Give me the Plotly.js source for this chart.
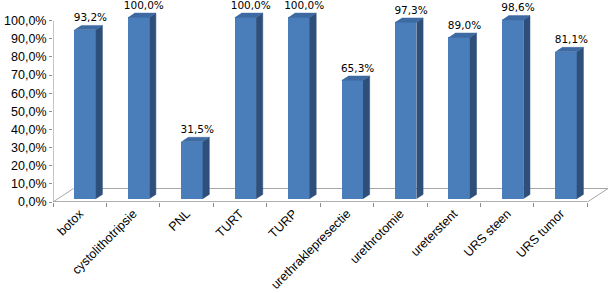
<!DOCTYPE html>
<html>
<head>
<meta charset="utf-8">
<script src="https://cdn.plot.ly/plotly-3.0.1.min.js"></script>
<style>html,body{margin:0;padding:0;background:#fff;}#chart{width:609px;height:293px;}</style>
</head>
<body>
<div id="chart"></div>
<script>
// ---- data ----
const categories = ["botox","cystolithotripsie","PNL","TURT","TURP","urethraklepresectie","urethrotomie","ureterstent","URS steen","URS tumor"];
const values = [93.2, 100.0, 31.5, 100.0, 100.0, 65.3, 97.3, 89.0, 98.6, 81.1];
const labels = ["93,2%","100,0%","31,5%","100,0%","100,0%","65,3%","97,3%","89,0%","98,6%","81,1%"];
const yTicks = [0,10,20,30,40,50,60,70,80,90,100];

// ---- 3D styling (in axis units) ----
const idx = categories.map((_, i) => i);
const frontOff = -0.10, frontW = 0.40;   // front face relative to category centre
const base = 1.8;                        // bars sit slightly back on the floor
const depX = 0.125, depY = 2.4;          // bar depth offsets
const floorDX = 0.385, floorDY = 7.45;   // floor depth
const xMin = -0.5, xMax = categories.length - 0.5;

const sideX = [], sideY = [], topX = [], topY = [];
idx.forEach(i => {
  const xr = i + frontOff + frontW, xl = i + frontOff, v = values[i] + base;
  sideX.push(xr, xr + depX, xr + depX, xr, null);
  sideY.push(base, base + depY, v + depY, v, null);
  topX.push(xl, xr, xr + depX, xl + depX, null);
  topY.push(v, v, v + depY, v + depY, null);
});

const traces = [
  { // front faces
    type: 'bar', x: idx, y: values, base: idx.map(() => base),
    width: frontW, offset: frontOff,
    marker: {color: '#4a7ebb', line: {width: 0}}, hoverinfo: 'skip', showlegend: false
  },
  { // side faces
    x: sideX, y: sideY, mode: 'lines', fill: 'toself', fillcolor: '#2f4f7b',
    line: {color: '#2f4f7b', width: 0.5}, hoverinfo: 'skip', showlegend: false
  },
  { // top faces
    x: topX, y: topY, mode: 'lines', fill: 'toself', fillcolor: '#3e6aa3',
    line: {color: '#3e6aa3', width: 0.5}, hoverinfo: 'skip', showlegend: false
  },
  { // data labels
    x: idx.map(i => i + 0.2), y: values.map(v => v + base + depY + 1.0),
    mode: 'text', text: labels, textposition: 'top center',
    textfont: {family: 'DejaVu Sans, sans-serif', size: 10.5, color: '#000'},
    cliponaxis: false, hoverinfo: 'skip', showlegend: false
  }
];

const shapes = [
  { // floor
    type: 'path', xref: 'x', yref: 'y', layer: 'below',
    path: `M ${xMin} 0 L ${xMax} 0 L ${xMax + floorDX} ${floorDY} L ${xMin + floorDX} ${floorDY} Z`,
    fillcolor: '#ffffff', line: {color: '#a6a6a6', width: 1}
  },
  { // front floor edge
    type: 'line', xref: 'x', yref: 'y', layer: 'below',
    x0: xMin, x1: xMax, y0: 0, y1: 0, line: {color: '#8c8c8c', width: 1}
  },
  { // value axis line
    type: 'line', xref: 'x', yref: 'y', layer: 'below',
    x0: xMin, x1: xMin, y0: 0, y1: 100, line: {color: '#8c8c8c', width: 1}
  }
];

const layout = {
  width: 609, height: 293,
  margin: {l: 53, r: 1, t: 6, b: 91},
  paper_bgcolor: '#fff', plot_bgcolor: 'rgba(0,0,0,0)',
  separators: ', ',
  bargap: 0,
  shapes: shapes,
  xaxis: {
    type: 'linear', range: [xMin, xMax + floorDX],
    tickmode: 'array', tickvals: idx, ticktext: categories,
    tickangle: -45, ticks: '', showgrid: false, zeroline: false, showline: false,
    ticklabelstandoff: 1,
    tickfont: {family: 'Liberation Sans, Arial, sans-serif', size: 12.5, color: '#000'},
    minor: {tickmode: 'array', tickvals: idx.map(i => i - 0.5).concat([xMax]), ticks: 'outside', ticklen: 4, tickcolor: '#8c8c8c', showgrid: false}
  },
  yaxis: {
    range: [0, 196 / 1.813], tickmode: 'array', tickvals: yTicks,
    ticktext: yTicks.map(v => v.toFixed(1).replace('.', ',') + '%'),
    ticks: 'outside', ticklen: 3, tickcolor: '#8c8c8c',
    showgrid: false, zeroline: false, showline: false,
    tickfont: {family: 'Liberation Sans, Arial, sans-serif', size: 12.5, color: '#000'}
  }
};

Plotly.newPlot('chart', traces, layout, {staticPlot: true, displayModeBar: false});
</script>
</body>
</html>
